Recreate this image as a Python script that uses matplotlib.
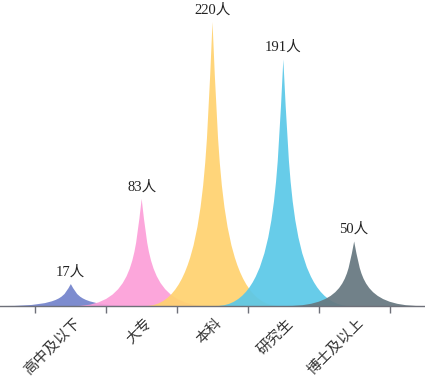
import matplotlib
matplotlib.use("Agg")
import matplotlib.pyplot as plt
from matplotlib.path import Path
from matplotlib.patches import PathPatch
from matplotlib.transforms import ScaledTranslation

plt.rcParams['font.family'] = ['Liberation Serif', 'Noto Sans CJK SC', 'DejaVu Sans']

categories = ['高中及以下', '大专', '本科', '研究生', '博士及以上']
values = [17, 83, 220, 191, 50]
colors = ['#7383cc', '#fc9fd9', '#ffd270', '#5bc8e8', '#667880']
unit = '人'

W, H = 425, 380
fig = plt.figure(figsize=(W / 100, H / 100), dpi=100)
base_px = 306
ax = fig.add_axes([0, (H - base_px) / H, 1, base_px / H])
ymax = 237.0
ax.set_xlim(-1, 5)
ax.set_ylim(0, ymax)

half_w = 0.95
codes = [Path.MOVETO, Path.LINETO, Path.CURVE4, Path.CURVE4, Path.CURVE4,
         Path.CURVE4, Path.CURVE4, Path.CURVE4, Path.CLOSEPOLY]
norm = [(0, 10), (10, 10), (5.5, 10), (5.5, 5), (5, 0), (4.5, 5), (4.5, 10), (0, 10), (0, 10)]

for i, (v, c) in enumerate(zip(values, colors)):
    verts = [(i - half_w + nx * (2 * half_w / 10), v * (1 - ny / 10)) for nx, ny in norm]
    patch = PathPatch(Path(verts, codes), facecolor=c, edgecolor='none', alpha=0.93, zorder=2)
    ax.add_patch(patch)
    ax.annotate(f'{v}{unit}', xy=(i, v), xytext=(0, 4), textcoords='offset points',
                ha='center', va='bottom', fontsize=10.5, color='#222222')

for s in ['top', 'right', 'left']:
    ax.spines[s].set_visible(False)
ax.spines['bottom'].set_color('#6e7079')
ax.spines['bottom'].set_linewidth(1.0)
ax.spines['bottom'].set_zorder(3)
ax.set_yticks([])

ax.set_xticks(range(len(categories)))
ax.set_xticklabels([''] * len(categories))
ax.tick_params(axis='x', which='major', length=0)
ax.set_xticks([i - 0.5 for i in range(len(categories) + 1)], minor=True)
ax.tick_params(axis='x', which='minor', length=5, color='#6e7079', width=1)
ax.patch.set_alpha(0)

off = ScaledTranslation(8 / 100, -15 / 100, fig.dpi_scale_trans)
for i, lab in enumerate(categories):
    ax.text(i, 0, lab, transform=ax.get_xaxis_transform() + off, rotation=45,
            ha='right', va='center', rotation_mode='anchor', fontsize=10.5,
            color='#333333', clip_on=False)

fig.savefig('out.png', dpi=100)
